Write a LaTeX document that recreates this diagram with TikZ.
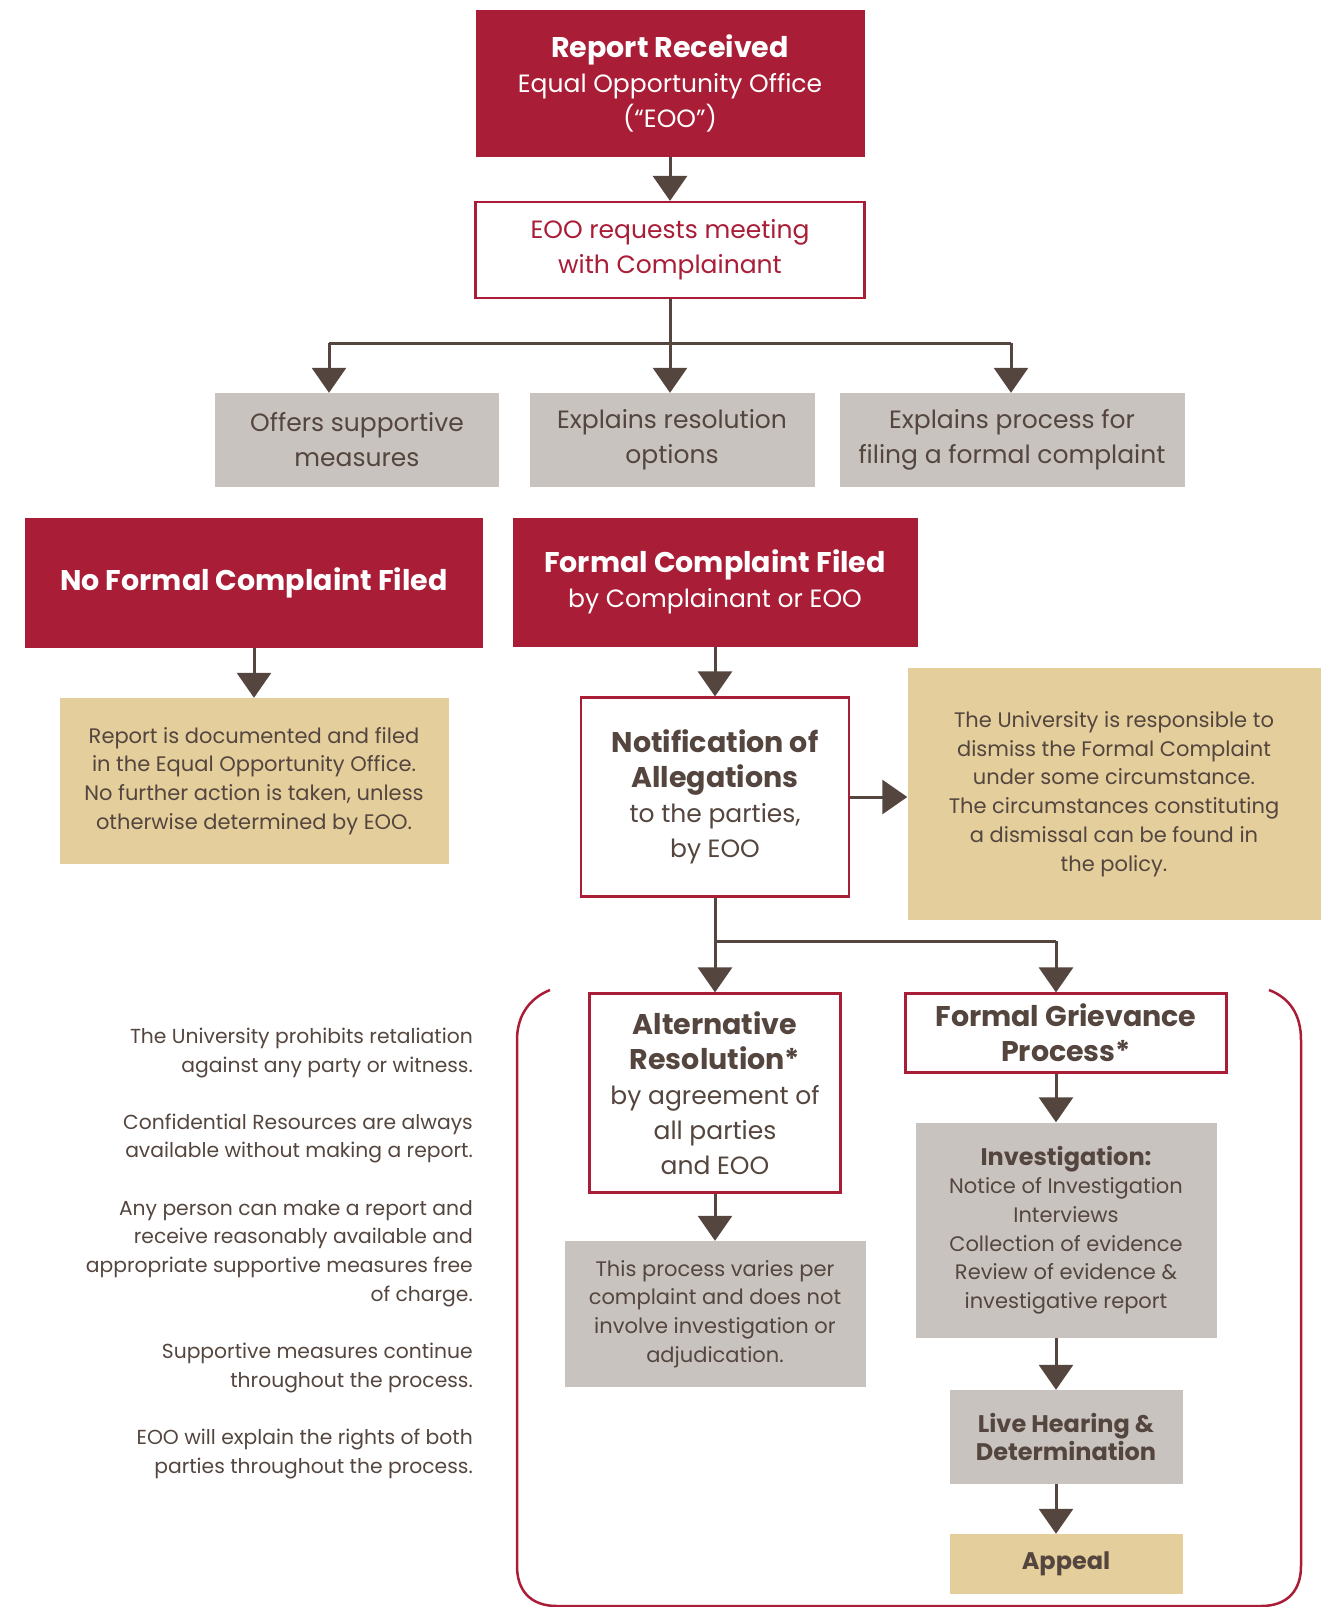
\documentclass[tikz,border=0pt]{standalone}
\usepackage{fontspec}
\setmainfont{Poppins}
\usepackage{xcolor}
\usetikzlibrary{arrows.meta, positioning}

\definecolor{eoored}{HTML}{A91D37}
\definecolor{eoogray}{HTML}{C8C3BE}
\definecolor{eootan}{HTML}{E4CE9C}
\definecolor{eoodark}{HTML}{54463F}
\newcommand{\bigtxt}{\fontsize{25}{35}\selectfont}
\newcommand{\smalltxt}{\fontsize{21}{28.7}\selectfont}
\newcommand{\notetxt}{\fontsize{20.3}{28.7}\selectfont}
\newcommand{\bighead}[1]{{\fontsize{28.5}{35}\selectfont\bfseries #1}}
\newcommand{\smallhead}[1]{{\fontsize{24}{28.7}\selectfont\bfseries #1}}

\begin{document}
\begin{tikzpicture}[x=1pt, y=-1pt, >={Triangle[width=34pt,length=25pt]},
  box/.style={rectangle, inner sep=0pt, align=center, text=eoodark},
  redbox/.style={box, fill=eoored, text=white, font=\bigtxt},
  outbox/.style={box, draw=eoored, line width=2.2pt, fill=white, font=\bigtxt},
  greybox/.style={box, fill=eoogray, font=\bigtxt},
  tanbox/.style={box, fill=eootan, font=\smalltxt},
  line/.style={line width=3pt, draw=eoodark},
  arrow/.style={line, ->}
]
  \useasboundingbox (0,0) rectangle (1327,1607);

  \node[redbox, minimum width=389pt, minimum height=147pt] (rep) at (670,83) {\bighead{Report Received}\\Equal Opportunity Office\\(“EOO”)};
  \node[outbox, text=eoored, minimum width=389pt, minimum height=96pt] (meet) at (670,250) {EOO requests meeting\\with Complainant};
  \draw[arrow] (rep) -- (meet);

  \node[greybox, minimum width=284pt, minimum height=94pt] (opt1) at (357,440) {Offers supportive\\measures};
  \node[greybox, minimum width=285pt, minimum height=94pt] (opt2) at (672,440) {Explains resolution\\options};
  \node[greybox, minimum width=345pt, minimum height=94pt] (opt3) at (1012,440) {Explains process for\\filing a formal complaint};

  \coordinate (split) at (670,343);
  \coordinate (b1) at (329,343);
  \coordinate (b3) at (1011,343);
  \draw[line] (meet.south) -- (split);
  \draw[line] (b1) -- (b3);
  \draw[arrow] (b1) -- (b1 |- opt1.north);
  \draw[arrow] (split) -- (split |- opt2.north);
  \draw[arrow] (b3) -- (b3 |- opt3.north);

  \node[redbox, minimum width=458pt, minimum height=130pt] (nofc) at (254,583) {\bighead{No Formal Complaint Filed}};
  \node[tanbox, minimum width=389pt, minimum height=166pt] (doc) at (254,781) {Report is documented and filed\\in the Equal Opportunity Office.\\No further action is taken, unless\\otherwise determined by EOO.};
  \draw[arrow] (nofc) -- (doc);

  \node[redbox, minimum width=405pt, minimum height=129pt] (fcf) at (715,582) {\bighead{Formal Complaint Filed}\\by Complainant or EOO};
  \node[outbox, minimum width=268pt, minimum height=199pt] (notif) at (715,797) {\bighead{Notification of}\\\bighead{Allegations}\\to the parties,\\by EOO};
  \draw[arrow] (fcf) -- (notif);

  \node[tanbox, minimum width=413pt, minimum height=252pt] (dism) at (1114,794) {The University is responsible to\\dismiss the Formal Complaint\\under some circumstance.\\The circumstances constituting\\a dismissal can be found in\\the policy.};
  \draw[arrow] (notif.east) -- (notif.east -| dism.west);

  \node[outbox, minimum width=251pt, minimum height=199pt] (alt) at (715,1093) {\bighead{Alternative}\\\bighead{Resolution*}\\by agreement of\\all parties\\and EOO};
  \node[outbox, minimum width=321pt, minimum height=79pt] (fg) at (1066,1033) {\bighead{Formal Grievance}\\\bighead{Process*}};

  \coordinate (fork) at (715,941);
  \coordinate (col) at (1056,941);
  \draw[line] (notif.south) -- (fork) -- (col);
  \draw[arrow] (fork) -- (alt.north);
  \draw[arrow] (col) -- (col |- fg.north);

  \node[tanbox, fill=eoogray, minimum width=301pt, minimum height=146pt] (varies) at (715,1314) {This process varies per\\complaint and does not\\involve investigation or\\adjudication.};
  \draw[arrow] (alt) -- (varies);

  \node[tanbox, fill=eoogray, minimum width=301pt, minimum height=215pt] (inv) at (1066,1230) {\smallhead{Investigation:}\\Notice of Investigation\\Interviews\\Collection of evidence\\Review of evidence \&\\investigative report};
  \node[tanbox, fill=eoogray, minimum width=233pt, minimum height=94pt] (live) at (1066,1437) {\smallhead{Live Hearing \&}\\\smallhead{Determination}};
  \node[tanbox, minimum width=233pt, minimum height=60pt] (appeal) at (1066,1564) {\smallhead{Appeal}};
  \draw[arrow] (col |- fg.south) -- (col |- inv.north);
  \draw[arrow] (col |- inv.south) -- (col |- live.north);
  \draw[arrow] (col |- live.south) -- (col |- appeal.north);

  \draw[eoored, line width=2.5pt] (550,990) .. controls (530,998) and (517,1015) .. (517,1040) -- (517,1566)
    .. controls (517,1590) and (530,1606) .. (557,1606) -- (1261,1606)
    .. controls (1288,1606) and (1301,1590) .. (1301,1566) -- (1301,1040)
    .. controls (1301,1015) and (1290,998) .. (1269,990);

  \node[anchor=base east, align=right, inner sep=0pt, text=eoodark, font=\notetxt] (notes) at (473,1473) {The University prohibits retaliation\\against any party or witness.\\[28.5pt]Confidential Resources are always\\available without making a report.\\[28.5pt]Any person can make a report and\\receive reasonably available and\\appropriate supportive measures free\\of charge.\\[28.5pt]Supportive measures continue\\throughout the process.\\[28.5pt]EOO will explain the rights of both\\parties throughout the process.};
\end{tikzpicture}
\end{document}
